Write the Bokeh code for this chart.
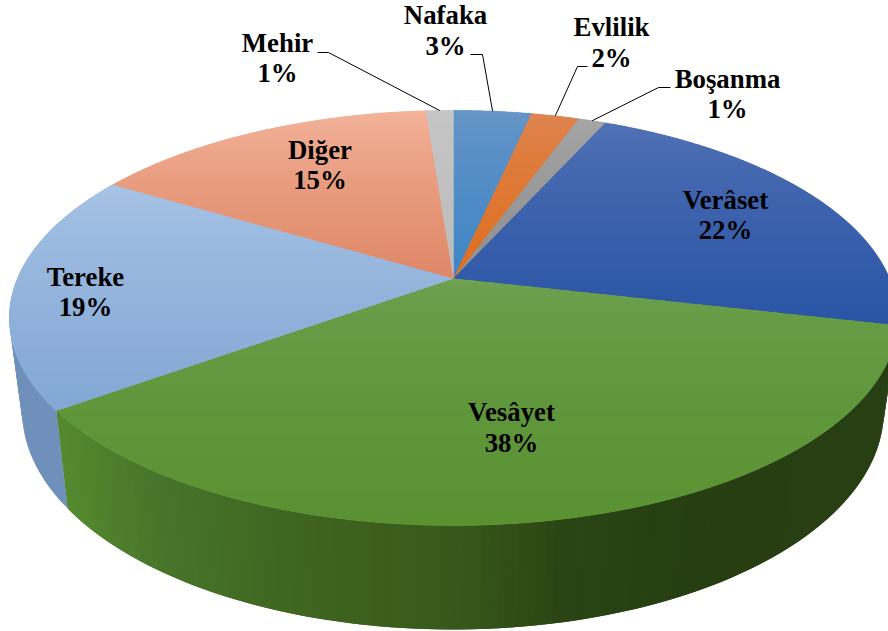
import numpy as np
from bokeh.plotting import figure
from bokeh.models import Range1d
from bokeh.core.properties import value
from bokeh.embed import file_html
from bokeh.resources import INLINE

# ---- data -----
categories = ["Nafaka", "Evlilik", "Boşanma", "Verâset", "Vesâyet", "Tereke", "Diğer", "Mehir"]
shares = [3.4, 2.1, 1.2, 21.9, 36.4, 18.6, 15.2, 1.2]
share_labels = ["3%", "2%", "1%", "22%", "38%", "19%", "15%", "1%"]

# ---- style -----
top_light = ["#6796c6", "#de8552", "#a6a6a6", "#5272b6", "#70a355", "#a9c5e7", "#f4b59c", "#c6c6c6"]
top_dark = ["#4085c6", "#df6e1e", "#8f8f8f", "#2a55a5", "#5a9232", "#83a7d4", "#df8868", "#bcbcbc"]
gradient_power = [0.75, 0.75, 0.75, 0.75, 0.5, 0.75, 0.75, 0.75]
side_stops_x = [60, 160, 300, 453, 560, 700, 880]
side_stops_green = ["#568a2f", "#47752a", "#3f6520", "#38591b", "#2a4513", "#263e12", "#283f14"]
side_tereke = "#6f90ba"
# label positions: centre x, baseline of name, baseline of share
label_pos = {"Nafaka": (445, 14, 45), "Evlilik": (611, 26, 57), "Boşanma": (727, 78, 108),
             "Verâset": (725, 199.5, 229.5), "Vesâyet": (511, 411.5, 442.5), "Tereke": (85, 276, 306),
             "Diğer": (319.5, 149.5, 179.5), "Mehir": (277, 42.5, 72.5)}
elbows = {"Nafaka": ((470, 54), (482, 54)), "Evlilik": ((587, 66), (577, 66)),
          "Boşanma": ((670, 87), (658, 87)), "Mehir": ((317, 52), (328, 52))}
FONT = "Liberation Serif"
FS = "26.8px"

# ---- perspective ----
K = 0.19
def project(theta, cx, cy, a, b):
    X, Y = np.sin(theta), np.cos(theta)
    w = 1 + K * Y
    return cx + a * X / w, cy - b * Y / w
def top(theta):
    return project(theta, 453.0, 278.0, 436.0, 200.0)
def bottom(theta):
    return project(theta, 452.5, 368.5, 423.0, 211.0)

def rgb(h):
    return np.array([int(h[i:i + 2], 16) for i in (1, 3, 5)], float)
def mix(c1, c2, t):
    c = rgb(c1) * (1 - t) + rgb(c2) * t
    return "#%02x%02x%02x" % tuple(int(round(v)) for v in c)

def clip(poly, ylim, keep_below):
    out = []
    n = len(poly)
    for i in range(n):
        p, q = poly[i], poly[(i + 1) % n]
        pin = p[1] <= ylim if keep_below else p[1] >= ylim
        qin = q[1] <= ylim if keep_below else q[1] >= ylim
        if pin:
            out.append(p)
        if pin != qin:
            t = (ylim - p[1]) / (q[1] - p[1])
            out.append((p[0] + t * (q[0] - p[0]), ylim))
    return out

edges = np.radians(np.concatenate([[0], np.cumsum(shares)]) * 3.6)
mids = (edges[:-1] + edges[1:]) / 2

xs, ys, cols = [], [], []
# the rim: front side strips, each overlapping the next one
green_i = categories.index("Vesâyet")
tereke_i = categories.index("Tereke")
xsrc = np.array(side_stops_x, float)
for i in (tereke_i, green_i):
    th = np.append(np.arange(edges[i], edges[i + 1], np.radians(1.0)), edges[i + 1])
    if i == green_i:
        th = th[::-1]   # painted from the tereke joint toward the right
    for k in range(len(th) - 1):
        t0, t1 = th[k], th[min(k + 2, len(th) - 1)]
        xa, ya = top(t0); xb, yb = top(t1); xc, yc = bottom(t1); xd, yd = bottom(t0)
        xm = (xa + xd + top(th[k + 1])[0] + bottom(th[k + 1])[0]) / 4
        if i == green_i:
            c = [np.interp(xm, xsrc, [rgb(s)[n] for s in side_stops_green]) for n in range(3)]
            col = "#%02x%02x%02x" % tuple(int(round(v)) for v in c)
        else:
            col = side_tereke
        xs.append([xa, xb, xc, xd]); ys.append([ya, yb, yc, yd]); cols.append(col)

# the top face: a flat base under every slice, then a vertical gradient of bands
bx, by, bc = [], [], []
tx, ty, tc = [], [], []
for i in range(len(shares)):
    th = np.linspace(edges[i], edges[i + 1], 120)
    ax, ay = top(th)
    poly = [(453.0, 278.0)] + list(zip(ax, ay))
    ymin = min(q[1] for q in poly); ymax = max(q[1] for q in poly)
    bx.append([q[0] for q in poly]); by.append([q[1] for q in poly]); bc.append(mix(top_light[i], top_dark[i], 0.5))
    yb = np.arange(np.floor(ymin), ymax + 2, 2.0)
    for y0 in yb[:-1]:
        y1 = y0 + 3.0     # one pixel of overlap under the following band
        pp = clip(poly, y0, False)
        if len(pp) < 3:
            continue
        pp = clip(pp, y1, True)
        if len(pp) < 3:
            continue
        t = float(np.clip((y0 + 1 - ymin) / (ymax - ymin), 0, 1)) ** gradient_power[i]
        tx.append([q[0] for q in pp]); ty.append([q[1] for q in pp])
        tc.append(mix(top_light[i], top_dark[i], t))

p = figure(width=888, height=631, x_range=Range1d(0, 888), y_range=Range1d(631, 0),
           output_backend="svg", toolbar_location=None, min_border=0,
           background_fill_color="white", border_fill_color="white")
p.axis.visible = False
p.grid.visible = False
p.outline_line_color = None

p.patches(xs, ys, fill_color=cols, line_color=None)
p.patches(bx, by, fill_color=bc, line_color=bc, line_width=0.6)
p.patches(tx, ty, fill_color=tc, line_color=None)

for i, name in enumerate(categories):
    if name in elbows:
        (x0, y0), (x1, y1) = elbows[name]
        xe, ye = top(mids[i])
        p.line([x0, x1, float(xe)], [y0, y1, float(ye)], line_color="#000000", line_width=1)
    cx, b1, b2 = label_pos[name]
    p.text([cx], [b1], text=[name], text_font=value(FONT), text_font_style="bold", text_font_size=FS,
           text_color="#000000", text_align="center", text_baseline="alphabetic")
    p.text([cx], [b2], text=[share_labels[i]], text_font=value(FONT), text_font_style="bold", text_font_size=FS,
           text_color="#000000", text_align="center", text_baseline="alphabetic")

open("out.html", "w").write(file_html(p, INLINE))
